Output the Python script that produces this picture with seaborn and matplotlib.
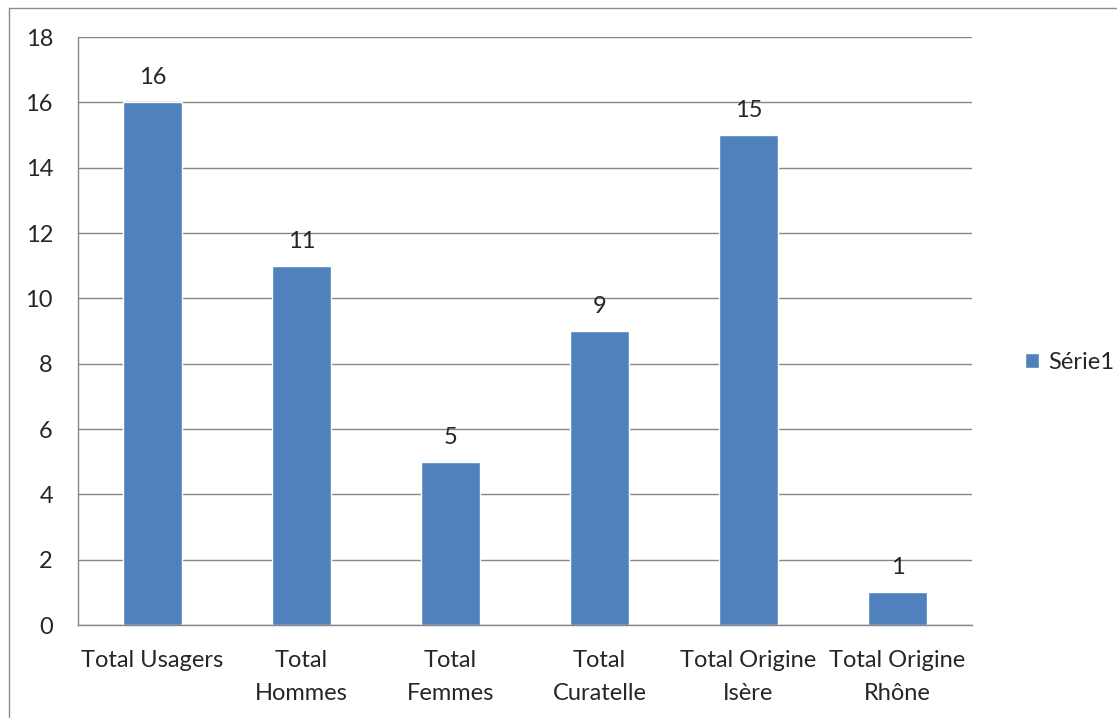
import matplotlib
matplotlib.use("Agg")
import pandas as pd
import seaborn as sns
import matplotlib.pyplot as plt
from matplotlib.lines import Line2D

# chart data
categories = ["Total Usagers", "Total\nHommes", "Total\nFemmes", "Total\nCuratelle",
              "Total Origine\nIsère", "Total Origine\nRhône"]
values = [16, 11, 5, 9, 15, 1]
series_name = "Série1"
y_ticks = [0, 2, 4, 6, 8, 10, 12, 14, 16, 18]

df = pd.DataFrame({"cat": categories, "val": values})

sns.set_style("white")
plt.rcParams["font.family"] = ["Lato", "DejaVu Sans"]
fs = 17

fig = plt.figure(figsize=(11.17, 7.18), dpi=100)
ax = fig.add_axes([78 / 1117, (718 - 625) / 718, 894 / 1117, 588 / 718])

sns.barplot(data=df, x="cat", y="val", color="#4F81BD", saturation=1, width=0.4,
            label=series_name, ax=ax)

grid_col = "#868686"
ax.set_ylim(0, 18)
ax.set_xlim(-0.5, len(categories) - 0.5)
ax.set_yticks(y_ticks)
ax.yaxis.grid(True, color=grid_col, linewidth=1)
ax.set_axisbelow(True)
ax.set_xlabel("")
ax.set_ylabel("")
for s in ["top", "right"]:
    ax.spines[s].set_visible(False)
for s in ["left", "bottom"]:
    ax.spines[s].set_color(grid_col)
    ax.spines[s].set_linewidth(1)

ax.tick_params(axis="y", length=7, color=grid_col, labelsize=fs, pad=11)
ax.tick_params(axis="x", which="major", length=0, labelsize=fs, pad=18)
ax.set_xticks([i - 0.5 for i in range(len(categories) + 1)], minor=True)
ax.tick_params(axis="x", which="minor", length=7, color=grid_col)
for lab in ax.get_xticklabels():
    lab.set_multialignment("center")
    lab.set_linespacing(1.68)

for i, v in enumerate(values):
    ax.annotate(str(v), (i, v), xytext=(0, 10), textcoords="offset points",
                ha="center", va="bottom", fontsize=fs)

leg = ax.legend(loc="center left", bbox_to_anchor=(1.035, 0.446), frameon=False,
                fontsize=fs, handlelength=0.6, handleheight=0.6, handletextpad=0.4)

# outer chart border (left and top visible)
fig.add_artist(Line2D([9 / 1117, 9 / 1117], [0, 1 - 8 / 718], color="#8c8c8c", lw=1,
                      transform=fig.transFigure))
fig.add_artist(Line2D([9 / 1117, 1], [1 - 8 / 718, 1 - 8 / 718], color="#8c8c8c", lw=1,
                      transform=fig.transFigure))

fig.savefig("out.png", dpi=100)
